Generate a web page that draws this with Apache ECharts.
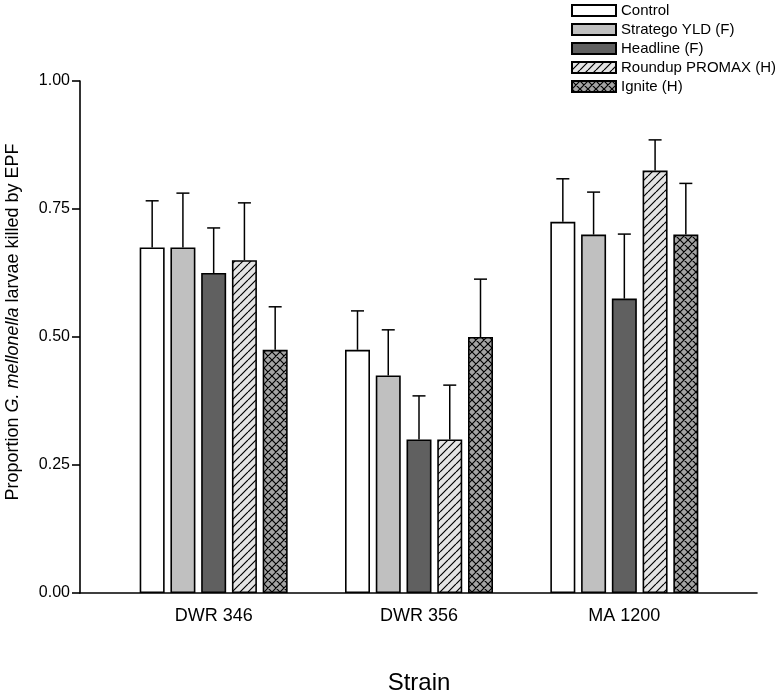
<!DOCTYPE html>
<html>
<head>
<meta charset="utf-8">
<script src="https://cdn.jsdelivr.net/npm/echarts@6/dist/echarts.min.js"></script>
<style>
  html, body { margin: 0; padding: 0; background: #fff; }
  #chart { width: 782px; height: 695px; }
</style>
</head>
<body>
<div id="chart"></div>
<script>
// ---------- data ----------
const categories = ['DWR 346', 'DWR 356', 'MA 1200'];
const treatments = ['Control', 'Stratego YLD (F)', 'Headline (F)', 'Roundup PROMAX (H)', 'Ignite (H)'];
const yTicks = [0, 0.25, 0.5, 0.75, 1];

const controlMean  = [0.675, 0.475, 0.725];
const controlSE    = [0.091, 0.076, 0.084];
const strategoMean = [0.675, 0.425, 0.700];
const strategoSE   = [0.106, 0.089, 0.083];
const headlineMean = [0.625, 0.300, 0.575];
const headlineSE   = [0.088, 0.085, 0.126];
const roundupMean  = [0.650, 0.300, 0.825];
const roundupSE    = [0.112, 0.106, 0.060];
const igniteMean   = [0.475, 0.500, 0.700];
const igniteSE     = [0.084, 0.113, 0.100];

const means = [controlMean, strategoMean, headlineMean, roundupMean, igniteMean];
const ses   = [controlSE, strategoSE, headlineSE, roundupSE, igniteSE];

// ---------- styles ----------
const FONT = 'Liberation Sans, Arial, sans-serif';
const BAR_W = 25;
const BAR_GAP = 0.23;

function makePattern(bg, size, diag1, diag2, lw) {
  const c = document.createElement('canvas');
  c.width = size; c.height = size;
  const g = c.getContext('2d');
  g.fillStyle = bg;
  g.fillRect(0, 0, size, size);
  g.strokeStyle = '#000';
  g.lineWidth = lw;
  g.beginPath();
  for (let k = -1; k <= 1; k++) {
    if (diag1) { g.moveTo(k * size, size); g.lineTo(k * size + size, 0); }
    if (diag2) { g.moveTo(k * size, 0); g.lineTo(k * size + size, size); }
  }
  g.stroke();
  return { image: c, repeat: 'repeat' };
}

const fills = [
  '#ffffff',
  '#c0c0c0',
  '#606060',
  makePattern('#e4e4e4', 8, true, false, 1.2),
  makePattern('#a4a4a4', 8, true, true, 1.2)
];

const chart = echarts.init(document.getElementById('chart'), null, { renderer: 'canvas' });

const barSeries = treatments.map((name, i) => ({
  name: name,
  type: 'bar',
  xAxisIndex: 1,
  yAxisIndex: 1,
  barWidth: BAR_W,
  barGap: (BAR_GAP * 100) + '%',
  data: means[i],
  itemStyle: { color: fills[i], borderColor: '#000', borderWidth: 1.6 },
  emphasis: { disabled: true },
  z: 2
}));

const errSeries = treatments.map((name, i) => ({
  name: name + ' SE',
  type: 'custom',
  xAxisIndex: 1,
  yAxisIndex: 1,
  z: 3,
  data: categories.map((c, j) => [j, means[i][j], ses[i][j]]),
  renderItem: function (params, api) {
    const offset = (i - 2) * BAR_W * (1 + BAR_GAP);
    const x = api.coord([api.value(0), 0])[0] + offset;
    const yBase = api.coord([api.value(0), api.value(1)])[1];
    const yTop = api.coord([api.value(0), api.value(1) + api.value(2)])[1];
    const st = { stroke: '#000', lineWidth: 1.5 };
    return {
      type: 'group',
      children: [
        { type: 'line', shape: { x1: x, y1: yBase, x2: x, y2: yTop }, style: st },
        { type: 'line', shape: { x1: x - 6.5, y1: yTop, x2: x + 6.5, y2: yTop }, style: st }
      ]
    };
  }
}));

chart.setOption({
  animation: false,
  backgroundColor: '#fff',
  textStyle: { fontFamily: FONT, color: '#000' },
  legend: {
    data: treatments,
    orient: 'vertical',
    left: 566,
    top: -2,
    itemWidth: 44,
    itemHeight: 11,
    itemGap: 4,
    icon: 'rect',
    selectedMode: false,
    textStyle: { fontFamily: FONT, fontSize: 15, color: '#000' }
  },
  grid: [
    { left: 80, right: 25, top: 81, bottom: 102, containLabel: false, outerBoundsMode: 'none' },
    { left: 111, right: 55, top: 81, bottom: 102, containLabel: false, outerBoundsMode: 'none' }
  ],
  xAxis: [
    {
      gridIndex: 0, type: 'value', min: 0, max: 1,
      axisLine: { show: true, onZero: false, lineStyle: { color: '#000', width: 1.6 } },
      axisTick: { show: false }, axisLabel: { show: false }, splitLine: { show: false }
    },
    {
      gridIndex: 1, type: 'category', data: categories,
      axisLine: { show: false }, axisTick: { show: false }, splitLine: { show: false },
      axisLabel: { fontFamily: FONT, fontSize: 18, color: '#000', margin: 14 },
      name: 'Strain', nameLocation: 'middle', nameGap: 78,
      nameTextStyle: { fontFamily: FONT, fontSize: 24, color: '#000' }
    }
  ],
  yAxis: [
    {
      gridIndex: 0, type: 'value', min: 0, max: 1, interval: 0.25,
      axisLine: { show: true, lineStyle: { color: '#000', width: 1.6 } },
      axisTick: { show: true, inside: false, length: 8, lineStyle: { color: '#000', width: 1.6 } },
      axisLabel: { fontFamily: FONT, fontSize: 16, color: '#000', margin: 10,
        formatter: v => (yTicks.indexOf(v) >= 0 ? v.toFixed(2) : '') },
      splitLine: { show: false },
      name: '{n|Proportion }{i|G. mellonella}{n| larvae killed by EPF}',
      nameLocation: 'middle', nameGap: 58, nameRotate: 90,
      nameTextStyle: {
        padding: [0, 0, 0, 30],
        rich: {
          n: { fontFamily: FONT, fontSize: 18, color: '#000' },
          i: { fontFamily: FONT, fontSize: 18, color: '#000', fontStyle: 'italic' }
        }
      }
    },
    {
      gridIndex: 1, type: 'value', min: 0, max: 1, show: false
    }
  ],
  series: barSeries.concat(errSeries)
});
</script>
</body>
</html>
